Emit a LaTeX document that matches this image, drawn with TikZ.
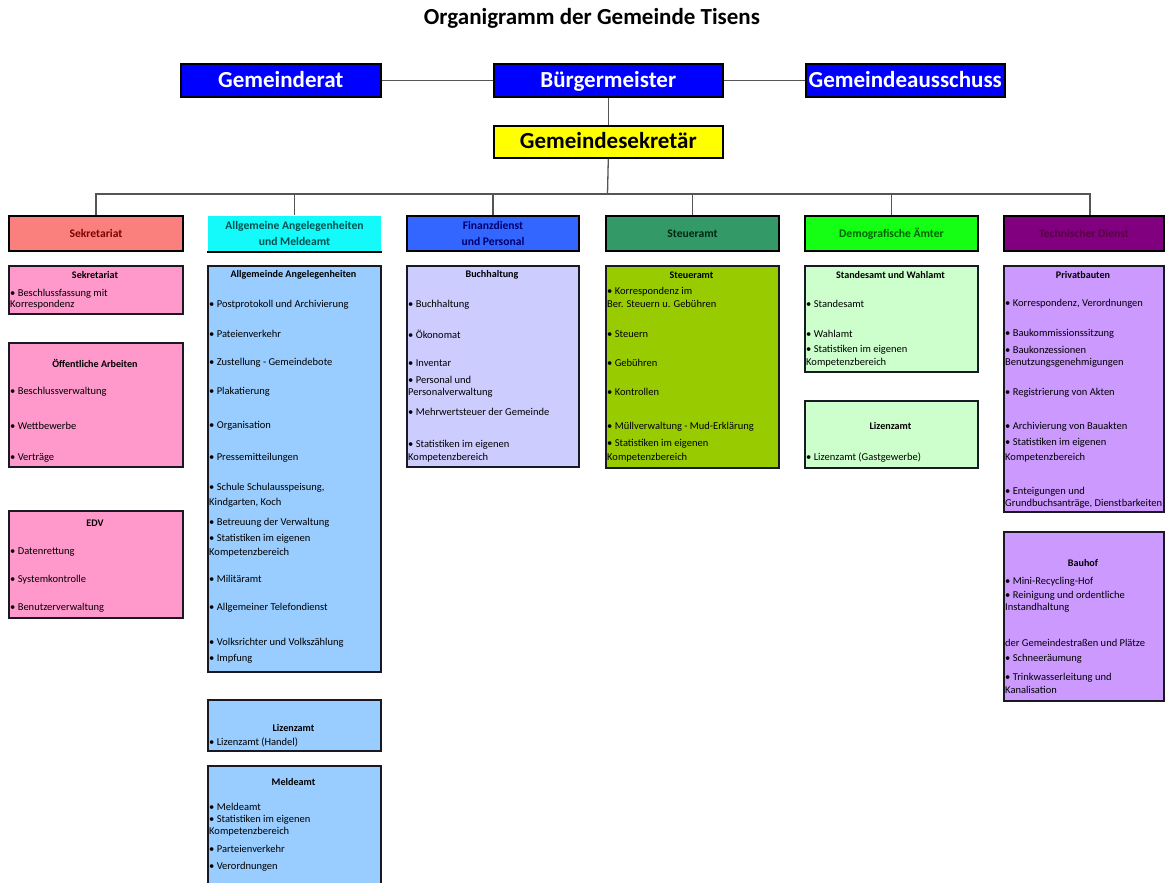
\documentclass[tikz,border=0pt]{standalone}
\usepackage{fontspec}
\setmainfont{Carlito}
\definecolor{topblue}{RGB}{0,0,255}
\definecolor{sekyellow}{RGB}{255,255,0}
\definecolor{hsalmon}{RGB}{250,128,125}
\definecolor{hcyan}{RGB}{20,250,250}
\definecolor{hblue}{RGB}{51,102,255}
\definecolor{hsea}{RGB}{51,153,102}
\definecolor{hgreen}{RGB}{20,255,20}
\definecolor{hpurple}{RGB}{128,0,128}
\definecolor{spink}{RGB}{255,153,204}
\definecolor{slblue}{RGB}{153,204,255}
\definecolor{slav}{RGB}{204,204,255}
\definecolor{solive}{RGB}{153,204,0}
\definecolor{slgreen}{RGB}{204,255,204}
\definecolor{sviolet}{RGB}{204,153,255}
\definecolor{tsal}{RGB}{128,0,0}
\definecolor{tcya}{RGB}{0,80,80}
\definecolor{tblu}{RGB}{0,0,110}
\definecolor{tsea}{RGB}{0,40,20}
\definecolor{tgre}{RGB}{0,100,0}
\definecolor{tpur}{RGB}{90,0,70}
\definecolor{conncol}{RGB}{85,85,85}
\definecolor{bordcol}{RGB}{25,25,35}
\tikzset{
  topbox/.style={draw=black, line width=1.6pt, inner sep=0pt, anchor=north west,
    minimum height=33pt, text height=17pt, text depth=3pt, font=\bfseries\fontsize{23}{25}\selectfont},
  hdr/.style={draw=black, line width=2pt, inner sep=0pt, anchor=north west,
    minimum height=35pt, font=\bfseries\fontsize{11.6}{15.5}\selectfont, align=center},
  subbox/.style={draw=bordcol, line width=2.2pt, inner sep=0pt, anchor=north west},
  ttl/.style={inner sep=0pt, font=\bfseries\fontsize{10.1}{12}\selectfont},
  ln/.style={inner sep=0pt, anchor=west, font=\fontsize{10.5}{12}\selectfont},
  conn/.style={draw=conncol, line width=1.3pt}
}
\begin{document}
\begin{tikzpicture}[x=1pt,y=-1pt]
\useasboundingbox (0,0) rectangle (1165,883);
\fill[white] (0,0) rectangle (1165,883);
\clip (0,0) rectangle (1165,883);

% title
\node[inner sep=0pt, font=\bfseries\fontsize{23}{25}\selectfont] (title) at (592,18) {Organigramm der Gemeinde Tisens};

% top level
\node[topbox, fill=topblue, text=white, minimum width=200pt] (gr) at (180,63) {Gemeinderat};
\node[topbox, fill=topblue, text=white, minimum width=229pt] (bm) at (493,63) {Bürgermeister};
\node[topbox, fill=topblue, text=white, minimum width=199pt] (ga) at (805,63) {Gemeindeausschuss};
\node[topbox, fill=sekyellow, text=black, minimum width=229pt, minimum height=32pt] (gs) at (493,125) {Gemeindesekretär};

% headers
\node[hdr, fill=hsalmon, text=tsal, minimum width=174pt] (h1) at (8,215) {Sekretariat};
\node[hdr, draw=none, fill=hcyan, text=tcya, minimum width=173pt] (h2) at (207,215) {Allgemeine Angelegenheiten\\und Meldeamt};
\node[hdr, fill=hblue, text=tblu, minimum width=172pt] (h3) at (406,215) {Finanzdienst\\und Personal};
\node[hdr, fill=hsea, text=tsea, minimum width=173pt] (h4) at (605,215) {Steueramt};
\node[hdr, fill=hgreen, text=tgre, minimum width=173pt] (h5) at (804,215) {Demografische Ämter};
\node[hdr, fill=hpurple, text=tpur, minimum width=160pt] (h6) at (1003,215) {Technischer Dienst};
\draw[line width=2.5pt, black] (h2.south west) -- (h2.south east);

% connectors
\coordinate (bar) at (607.5,194);
\draw[conn] (gr.east) -- (bm.west);
\draw[conn] (bm.east) -- (ga.west);
\draw[conn] (bm.south) -- (gs.north);
\draw[conn] (gs.south) -- (bar);
\draw[conn] (bar) -| (h1.north);
\draw[conn] (bar) -| (h2.north);
\draw[conn] (bar) -| (h3.north);
\draw[conn] (bar) -| (h4.north);
\draw[conn] (bar) -| (h5.north);
\draw[conn] (bar) -| ([xshift=6pt]h6.north);

% ---------- column 1
\node[subbox, fill=spink, minimum width=174pt, minimum height=48pt] (s1a) at (8,265) {};
\node[ttl] (s1at) at (95,275) {Sekretariat};
\node[ln] (s1a1) at (10,294) {• Beschlussfassung mit};
\node[ln] (s1a2) at (10,305) {Korrespondenz};

\node[subbox, fill=spink, minimum width=174pt, minimum height=124pt] (s1b) at (8,342) {};
\node[ttl] (s1bt) at (95,363) {Öffentliche Arbeiten};
\node[ln] (s1b1) at (10,392) {• Beschlussverwaltung};
\node[ln] (s1b2) at (10,426) {• Wettbewerbe};
\node[ln] (s1b3) at (10,458) {• Verträge};

\node[subbox, fill=spink, minimum width=174pt, minimum height=107pt] (s1c) at (8,510) {};
\node[ttl] (s1ct) at (95,523) {EDV};
\node[ln] (s1c1) at (10,552) {• Datenrettung};
\node[ln] (s1c2) at (10,580) {• Systemkontrolle};
\node[ln] (s1c3) at (10,608) {• Benutzerverwaltung};

% ---------- column 2
\node[subbox, fill=slblue, minimum width=173pt, minimum height=406pt] (s2a) at (207,265) {};
\node[ttl] (s2at) at (293.5,275) {Allgemeinde Angelegenheiten};
\node[ln] (s2a1) at (209,305) {• Postprotokoll und Archivierung};
\node[ln] (s2a2) at (209,334) {• Pateienverkehr};
\node[ln] (s2a3) at (209,363) {• Zustellung - Gemeindebote};
\node[ln] (s2a4) at (209,392) {• Plakatierung};
\node[ln] (s2a5) at (209,426) {• Organisation};
\node[ln] (s2a6) at (209,458) {• Pressemitteilungen};
\node[ln] (s2a7) at (209,488) {• Schule Schulausspeisung,};
\node[ln] (s2a8) at (209,503) {Kindgarten, Koch};
\node[ln] (s2a9) at (209,523) {• Betreuung der Verwaltung};
\node[ln] (s2a10) at (209,539) {• Statistiken im eigenen};
\node[ln] (s2a11) at (209,553) {Kompetenzbereich};
\node[ln] (s2a12) at (209,579) {• Militäramt};
\node[ln] (s2a13) at (209,608) {• Allgemeiner Telefondienst};
\node[ln] (s2a14) at (209,643) {• Volksrichter und Volkszählung};
\node[ln] (s2a15) at (209,659) {• Impfung};

\node[subbox, fill=slblue, minimum width=173pt, minimum height=51pt] (s2b) at (207,699) {};
\node[ttl] (s2bt) at (293.5,728) {Lizenzamt};
\node[ln] (s2b1) at (209,742) {• Lizenzamt (Handel)};

\node[subbox, fill=slblue, minimum width=173pt, minimum height=140pt] (s2c) at (207,765) {};
\node[ttl] (s2ct) at (293.5,782) {Meldeamt};
\node[ln] (s2c1) at (209,807) {• Meldeamt};
\node[ln] (s2c2) at (209,820) {• Statistiken im eigenen};
\node[ln] (s2c3) at (209,832) {Kompetenzbereich};
\node[ln] (s2c4) at (209,849) {• Parteienverkehr};
\node[ln] (s2c5) at (209,867) {• Verordnungen};

% ---------- column 3
\node[subbox, fill=slav, minimum width=172pt, minimum height=201pt] (s3a) at (406,265) {};
\node[ttl] (s3at) at (492,275) {Buchhaltung};
\node[ln] (s3a1) at (408,305) {• Buchhaltung};
\node[ln] (s3a2) at (408,334) {• Ökonomat};
\node[ln] (s3a3) at (408,363) {• Inventar};
\node[ln] (s3a4) at (408,380) {• Personal und};
\node[ln] (s3a5) at (408,393) {Personalverwaltung};
\node[ln] (s3a6) at (408,412) {• Mehrwertsteuer der Gemeinde};
\node[ln] (s3a7) at (408,445) {• Statistiken im eigenen};
\node[ln] (s3a8) at (408,458) {Kompetenzbereich};

% ---------- column 4
\node[subbox, fill=solive, minimum width=173pt, minimum height=202pt] (s4a) at (605,265) {};
\node[ttl] (s4at) at (691.5,275) {Steueramt};
\node[ln] (s4a1) at (607,292) {• Korrespondenz im};
\node[ln] (s4a2) at (607,304) {Ber. Steuern u. Gebühren};
\node[ln] (s4a3) at (607,334) {• Steuern};
\node[ln] (s4a4) at (607,363) {• Gebühren};
\node[ln] (s4a5) at (607,392) {• Kontrollen};
\node[ln] (s4a6) at (607,427) {• Müllverwaltung - Mud-Erklärung};
\node[ln] (s4a7) at (607,444) {• Statistiken im eigenen};
\node[ln] (s4a8) at (607,458) {Kompetenzbereich};

% ---------- column 5
\node[subbox, fill=slgreen, minimum width=173pt, minimum height=106pt] (s5a) at (804,265) {};
\node[ttl] (s5at) at (890.5,275) {Standesamt und Wahlamt};
\node[ln] (s5a1) at (806,304) {• Standesamt};
\node[ln] (s5a2) at (806,334) {• Wahlamt};
\node[ln] (s5a3) at (806,350) {• Statistiken im eigenen};
\node[ln] (s5a4) at (806,363) {Kompetenzbereich};

\node[subbox, fill=slgreen, minimum width=173pt, minimum height=67pt] (s5b) at (804,400) {};
\node[ttl] (s5bt) at (890.5,426) {Lizenzamt};
\node[ln] (s5b1) at (806,458) {• Lizenzamt (Gastgewerbe)};

% ---------- column 6
\node[subbox, fill=sviolet, minimum width=160pt, minimum height=246pt] (s6a) at (1003,265) {};
\node[ttl] (s6at) at (1083,275) {Privatbauten};
\node[ln] (s6a1) at (1005,304) {• Korrespondenz, Verordnungen};
\node[ln] (s6a2) at (1005,334) {• Baukommissionssitzung};
\node[ln] (s6a3) at (1005,350) {• Baukonzessionen};
\node[ln] (s6a4) at (1005,363) {Benutzungsgenehmigungen};
\node[ln] (s6a5) at (1005,393) {• Registrierung von Akten};
\node[ln] (s6a6) at (1005,427) {• Archivierung von Bauakten};
\node[ln] (s6a7) at (1005,443) {• Statistiken im eigenen};
\node[ln] (s6a8) at (1005,458) {Kompetenzbereich};
\node[ln] (s6a9) at (1005,492) {• Enteigungen und};
\node[ln] (s6a10) at (1005,504) {Grundbuchsanträge, Dienstbarkeiten};

\node[subbox, fill=sviolet, minimum width=160pt, minimum height=169pt] (s6b) at (1003,531) {};
\node[ttl] (s6bt) at (1083,563) {Bauhof};
\node[ln] (s6b1) at (1005,582) {• Mini-Recycling-Hof};
\node[ln] (s6b2) at (1005,596) {• Reinigung und ordentliche};
\node[ln] (s6b3) at (1005,608) {Instandhaltung};
\node[ln] (s6b4) at (1005,643) {der Gemeindestraßen und Plätze};
\node[ln] (s6b5) at (1005,659) {• Schneeräumung};
\node[ln] (s6b6) at (1005,678) {• Trinkwasserleitung und};
\node[ln] (s6b7) at (1005,690) {Kanalisation};
\end{tikzpicture}
\end{document}
